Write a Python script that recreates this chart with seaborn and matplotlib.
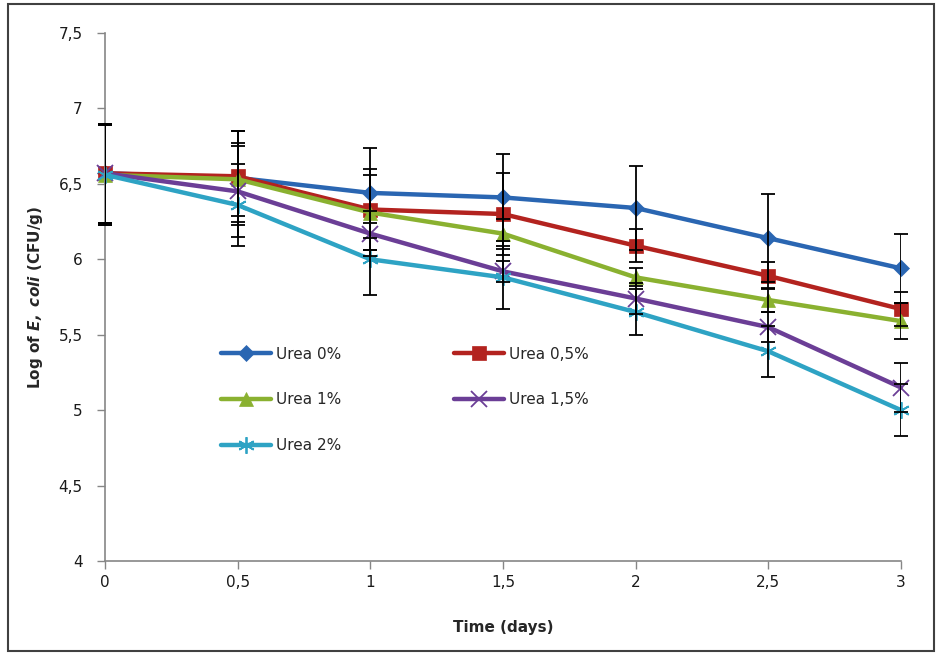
import matplotlib
matplotlib.use("Agg")
import matplotlib.pyplot as plt
import seaborn as sns
import pandas as pd
from matplotlib.patches import Rectangle

days = [0, 0.5, 1, 1.5, 2, 2.5, 3]
series_names = ["Urea 0%", "Urea 0,5%", "Urea 1%", "Urea 1,5%", "Urea 2%"]
urea0 = [6.57, 6.54, 6.44, 6.41, 6.34, 6.14, 5.94]
urea05 = [6.57, 6.55, 6.33, 6.30, 6.09, 5.89, 5.67]
urea1 = [6.56, 6.53, 6.31, 6.17, 5.88, 5.73, 5.59]
urea15 = [6.57, 6.45, 6.17, 5.92, 5.74, 5.55, 5.15]
urea2 = [6.56, 6.36, 6.00, 5.88, 5.65, 5.39, 5.00]
err0 = [0.33, 0.31, 0.30, 0.29, 0.28, 0.29, 0.23]
err05 = [0.33, 0.30, 0.27, 0.27, 0.11, 0.09, 0.11]
err1 = [0.33, 0.24, 0.25, 0.10, 0.06, 0.08, 0.12]
err15 = [0.33, 0.30, 0.15, 0.07, 0.10, 0.10, 0.16]
err2 = [0.33, 0.27, 0.24, 0.21, 0.15, 0.17, 0.17]
x_ticks = [0, 0.5, 1, 1.5, 2, 2.5, 3]
x_ticklabels = ["0", "0,5", "1", "1,5", "2", "2,5", "3"]
y_ticks = [4, 4.5, 5, 5.5, 6, 6.5, 7, 7.5]
y_ticklabels = ["4", "4,5", "5", "5,5", "6", "6,5", "7", "7,5"]

values = [urea0, urea05, urea1, urea15, urea2]
errors = [err0, err05, err1, err15, err2]
colors = ["#2A66B2", "#B3231F", "#8AB130", "#6B3E96", "#2EA3C4"]
markers = ["D", "s", "^", "x", (6, 2, 0)]
msizes = [8.5, 10.5, 10.5, 11, 12]

sns.set_style("white")
plt.rcParams["font.family"] = ["DejaVu Sans"]

fig = plt.figure(figsize=(9.4, 6.55), dpi=100)
ax = fig.add_axes([105 / 940, 1 - 561 / 655, (901 - 105) / 940, (561 - 33) / 655])

for name, vals, errs, col, mk, ms in zip(series_names, values, errors, colors, markers, msizes):
    df = pd.DataFrame({"day": days, "val": vals})
    ax.errorbar(days, vals, yerr=errs, fmt="none", ecolor="black",
                elinewidth=1.3, capsize=5, capthick=1.3, zorder=3)
    sns.lineplot(data=df, x="day", y="val", ax=ax, color=col, lw=3.2,
                 marker=mk, markersize=ms, markeredgecolor=col,
                 markeredgewidth=1.3 if mk in ("x", (6, 2, 0)) else 0.5,
                 label=name, zorder=2, clip_on=False)

for ln in ax.lines:
    ln.set_clip_on(False)

ax.set_xlim(0, 3)
ax.set_ylim(4, 7.5)
ax.set_xticks(x_ticks)
ax.set_xticklabels(x_ticklabels, fontsize=11)
ax.set_yticks(y_ticks)
ax.set_yticklabels(y_ticklabels, fontsize=11)
ax.tick_params(axis="both", direction="out", length=6, width=1, color="#868686",
               labelcolor="#1a1a1a")
ax.tick_params(axis="y", pad=10)
ax.tick_params(axis="x", pad=4)
ax.tick_params(axis="both", left=True, bottom=True)
for s in ["top", "right"]:
    ax.spines[s].set_visible(False)
for s in ["left", "bottom"]:
    ax.spines[s].set_color("#868686")
    ax.spines[s].set_linewidth(1.2)

ax.set_xlabel("Time (days)", fontsize=11, fontweight="bold", labelpad=22)
ax.set_ylabel(r"Log of $\mathbfit{E,\ coli}$ (CFU/g)", fontsize=11, fontweight="bold", labelpad=10)

h, l = ax.get_legend_handles_labels()
order = [0, 2, 4, 1, 3]
ax.legend([h[i] for i in order], [l[i] for i in order], ncol=2, frameon=False,
          loc="upper left", bbox_to_anchor=(207 / 940, 1 - 333 / 655),
          bbox_transform=fig.transFigure, fontsize=11, handlelength=3.3,
          handletextpad=0.3, columnspacing=7.4, labelspacing=2.0)

fig.patches.append(Rectangle((8 / 940, 4 / 655), (934 - 8) / 940, (651 - 4) / 655,
                             transform=fig.transFigure, fill=False,
                             edgecolor="#404040", lw=1.5))

fig.savefig("out.png", dpi=100)
